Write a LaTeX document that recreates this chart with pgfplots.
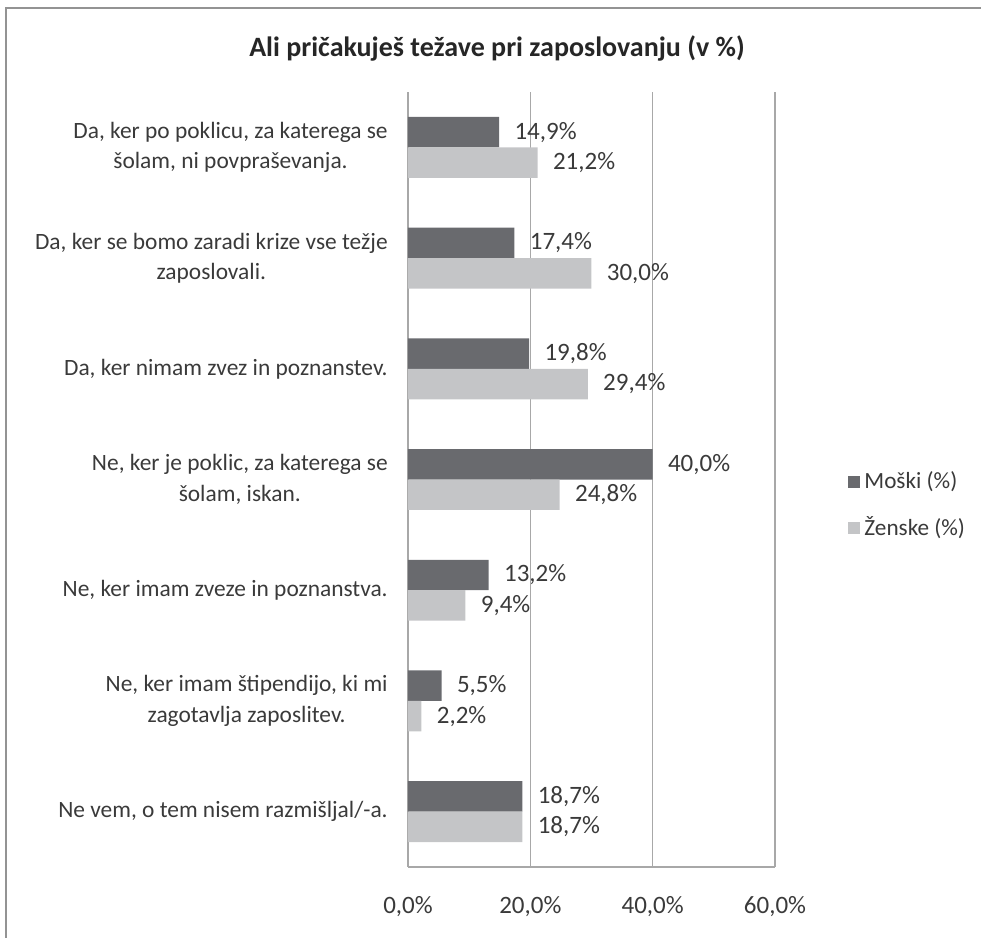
\documentclass[border=0pt]{standalone}
\usepackage{pgfplots}
\pgfplotsset{compat=1.18}
\usepackage{fontspec}
\setmainfont{Carlito}
\definecolor{darkbar}{HTML}{696A6E}
\definecolor{lightbar}{HTML}{C4C5C7}
\definecolor{txt}{HTML}{3A3A3A}
\definecolor{gridc}{HTML}{A8A8A8}
\begin{document}
\begin{tikzpicture}
\path[use as bounding box] (0,0) rectangle (490.5pt,469pt);
\draw[color=gray!85, line width=1.2pt] (3pt,0pt) -- (3pt,465pt) -- (490.5pt,465pt);
\node[font=\fontsize{14}{16}\selectfont\bfseries, text=black!85] at (248.5pt,445pt) {Ali pričakuješ težave pri zaposlovanju (v \%)};
\begin{axis}[
  at={(204pt,35.5pt)}, anchor=south west,
  scale only axis, width=183.5pt, height=387.5pt,
  xbar, y dir=reverse,
  xmin=0, xmax=60, ymin=-0.5, ymax=6.5,
  xtick={0,20,40,60},
  ytick={0,1,2,3,4,5,6},
  yticklabels={
    {Da, ker po poklicu, za katerega se\\šolam, ni povpraševanja.},
    {Da, ker se bomo zaradi krize vse težje\\zaposlovali.},
    {Da, ker nimam zvez in poznanstev.},
    {Ne, ker je poklic, za katerega se\\šolam, iskan.},
    {Ne, ker imam zveze in poznanstva.},
    {Ne, ker imam štipendijo, ki mi\\zagotavlja zaposlitev.},
    {Ne vem, o tem nisem razmišljal/-a.}},
  yticklabel style={align=center, font=\fontsize{11.7}{15.3}\selectfont, text=txt, inner sep=0pt, xshift=-10pt},
  xticklabel={\pgfmathprintnumber[fixed,fixed zerofill,precision=1,use comma]{\tick}\%},
  xticklabel style={font=\fontsize{12.5}{14}\selectfont, text=txt, yshift=-11pt},
  /pgf/number format/assume math mode=true,
  major tick length=0pt,
  axis x line*=bottom, axis y line*=left,
  axis line style={gridc, line width=0.8pt, -},
  xmajorgrids, grid style={gridc, line width=0.8pt},
  bar width=0.275,
  nodes near coords={\pgfmathprintnumber[fixed,fixed zerofill,precision=1,use comma]{\pgfplotspointmeta}\%},
  nodes near coords style={anchor=west, inner sep=0pt, xshift=7.5pt, font=\fontsize{12.5}{14}\selectfont, text=txt},
  legend style={draw=none, at={(1.199,0.4665)}, anchor=west, font=\fontsize{11.6}{13}\selectfont, text=txt, row sep=8.5pt, inner sep=0pt, /tikz/every even column/.append style={column sep=0pt}},
  legend cell align=left,
  legend image code/.code={\fill[#1] (0pt,-3pt) rectangle (6pt,3pt);},
]
\addplot[fill=darkbar, draw=none, bar shift=-0.1375] coordinates {(14.9,0) (17.4,1) (19.8,2) (40.0,3) (13.2,4) (5.5,5) (18.7,6)};
\addplot[fill=lightbar, draw=none, bar shift=0.1375] coordinates {(21.2,0) (30.0,1) (29.4,2) (24.8,3) (9.4,4) (2.2,5) (18.7,6)};
\legend{Moški (\%), Ženske (\%)}
\end{axis}
\end{tikzpicture}
\end{document}
